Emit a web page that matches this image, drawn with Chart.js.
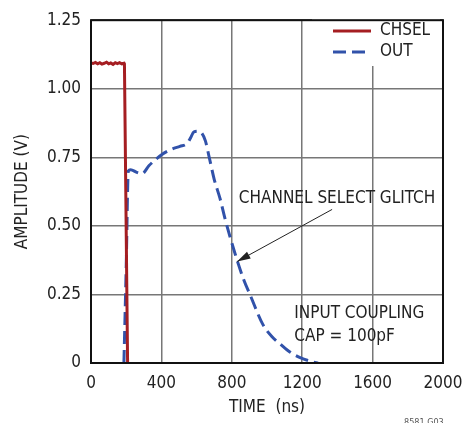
<!DOCTYPE html>
<html>
<head>
<meta charset="utf-8">
<script src="https://cdn.jsdelivr.net/npm/chart.js@4"></script>
<style>
  html, body { margin: 0; padding: 0; background: #fff; }
  #wrap { width: 476px; height: 423px; }
</style>
</head>
<body>
<div id="wrap"><canvas id="glitchChart" width="476" height="423"></canvas></div>
<script>
const FONT = "'DejaVu Sans Condensed', 'Liberation Sans', Arial, sans-serif";

// CHSEL trace (ns, V)
const chselTime = [0, 12, 25, 38, 50, 62, 75, 88, 100, 112, 125, 138, 150, 162, 175, 188, 190, 208];
const chselAmp  = [1.094, 1.092, 1.096, 1.091, 1.095, 1.09, 1.093, 1.097, 1.091, 1.094, 1.089, 1.095, 1.092, 1.095, 1.091, 1.093, 1.09, 0];

// OUT trace (ns, V)
const outTime = [187, 200, 212, 225, 260, 290, 330, 403, 460, 505, 545, 565, 585, 610, 630, 650, 670, 700, 733, 760, 790, 835, 870, 903, 977, 1030, 1074, 1130, 1188, 1261, 1290];
const outAmp  = [0, 0.35, 0.70, 0.705, 0.695, 0.69, 0.72, 0.76, 0.78, 0.79, 0.80, 0.82, 0.843, 0.845, 0.838, 0.81, 0.755, 0.67, 0.60, 0.53, 0.46, 0.365, 0.30, 0.25, 0.14, 0.095, 0.07, 0.04, 0.02, 0.004, 0];

const xTicks = [0, 400, 800, 1200, 1600, 2000];
const yTicks = [0, 0.25, 0.5, 0.75, 1.0, 1.25];
const yTickLabels = ['0', '0.25', '0.50', '0.75', '1.00', '1.25'];

const toPoints = (xs, ys) => xs.map((x, i) => ({ x: x, y: ys[i] }));

// legend + notes drawn inside the plot
const overlay = {
  id: 'overlay',
  afterDatasetsDraw(chart) {
    const ctx = chart.ctx;
    const xs = chart.scales.x, ys = chart.scales.y;
    ctx.save();
    // legend box
    ctx.fillStyle = '#fff';
    ctx.fillRect(312, 14, 128, 52);
    chart.data.datasets.forEach((ds, i) => {
      const y = 31 + i * 21;
      ctx.strokeStyle = ds.borderColor;
      ctx.lineWidth = 3;
      ctx.setLineDash(ds.borderDash || []);
      ctx.beginPath();
      ctx.moveTo(333, y);
      ctx.lineTo(371, y);
      ctx.stroke();
      ctx.setLineDash([]);
      ctx.fillStyle = '#222';
      ctx.font = '17px ' + FONT;
      ctx.textBaseline = 'middle';
      ctx.textAlign = 'left';
      ctx.fillText(ds.label, 380, y);
    });

    ctx.fillStyle = '#222';
    ctx.font = '17px ' + FONT;
    ctx.textAlign = 'left';
    ctx.textBaseline = 'middle';
    ctx.fillText('CHANNEL SELECT GLITCH', xs.getPixelForValue(840), ys.getPixelForValue(0.6));
    ctx.fillText('INPUT COUPLING', xs.getPixelForValue(1155), ys.getPixelForValue(0.18));
    ctx.fillText('CAP = 100pF', xs.getPixelForValue(1155), ys.getPixelForValue(0.095));

    // arrow
    const x1 = xs.getPixelForValue(1370), y1 = ys.getPixelForValue(0.56);
    const x2 = xs.getPixelForValue(830), y2 = ys.getPixelForValue(0.37);
    ctx.strokeStyle = '#222';
    ctx.lineWidth = 1;
    ctx.beginPath();
    ctx.moveTo(x1, y1);
    ctx.lineTo(x2, y2);
    ctx.stroke();
    const a = Math.atan2(y2 - y1, x2 - x1);
    ctx.beginPath();
    ctx.moveTo(x2, y2);
    ctx.lineTo(x2 - 14 * Math.cos(a - 0.28), y2 - 14 * Math.sin(a - 0.28));
    ctx.lineTo(x2 - 14 * Math.cos(a + 0.28), y2 - 14 * Math.sin(a + 0.28));
    ctx.closePath();
    ctx.fill();

    // plot frame
    const ca = chart.chartArea;
    ctx.strokeStyle = '#111';
    ctx.lineWidth = 2;
    ctx.strokeRect(ca.left, ca.top, ca.right - ca.left, ca.bottom - ca.top);

    ctx.fillStyle = '#555';
    ctx.font = '9px ' + FONT;
    ctx.fillText('8581 G03', 404, 423);
    ctx.restore();
  }
};

new Chart(document.getElementById('glitchChart'), {
  type: 'line',
  data: {
    datasets: [{
      label: 'CHSEL',
      data: toPoints(chselTime, chselAmp),
      borderColor: '#a51e22',
      borderWidth: 3,
      pointRadius: 0,
      tension: 0
    }, {
      label: 'OUT',
      data: toPoints(outTime, outAmp),
      borderColor: '#3152aa',
      borderWidth: 3,
      borderDash: [13, 6],
      pointRadius: 0,
      cubicInterpolationMode: 'monotone'
    }]
  },
  options: {
    responsive: false,
    animation: false,
    layout: { padding: { left: 0, right: 33, top: 10, bottom: 0 } },
    plugins: { legend: { display: false }, tooltip: { enabled: false } },
    scales: {
      x: {
        type: 'linear',
        min: 0, max: 2000,
        afterBuildTicks: s => { s.ticks = xTicks.map(v => ({ value: v })); },
        afterFit: s => { s.height = 60; },
        grid: { color: '#777', lineWidth: 1.5, drawTicks: false },
        border: { display: false },
        ticks: { padding: 10, color: '#222', font: { family: FONT, size: 17 }, callback: v => String(v) },
        title: { display: true, text: 'TIME  (ns)', color: '#222', padding: { top: 0, bottom: 5 }, font: { family: FONT, size: 17 } }
      },
      y: {
        min: 0, max: 1.25,
        afterBuildTicks: s => { s.ticks = yTicks.map(v => ({ value: v })); },
        afterFit: s => { s.width = 91; },
        grid: { color: '#777', lineWidth: 1.5, drawTicks: false },
        border: { display: false },
        ticks: {
          padding: 10, color: '#222', font: { family: FONT, size: 17 },
          callback: v => yTickLabels[yTicks.indexOf(v)]
        },
        title: { display: true, text: 'AMPLITUDE (V)', color: '#222', padding: { top: 12, bottom: 0 }, font: { family: FONT, size: 17 } }
      }
    }
  },
  plugins: [overlay]
});
</script>
</body>
</html>
